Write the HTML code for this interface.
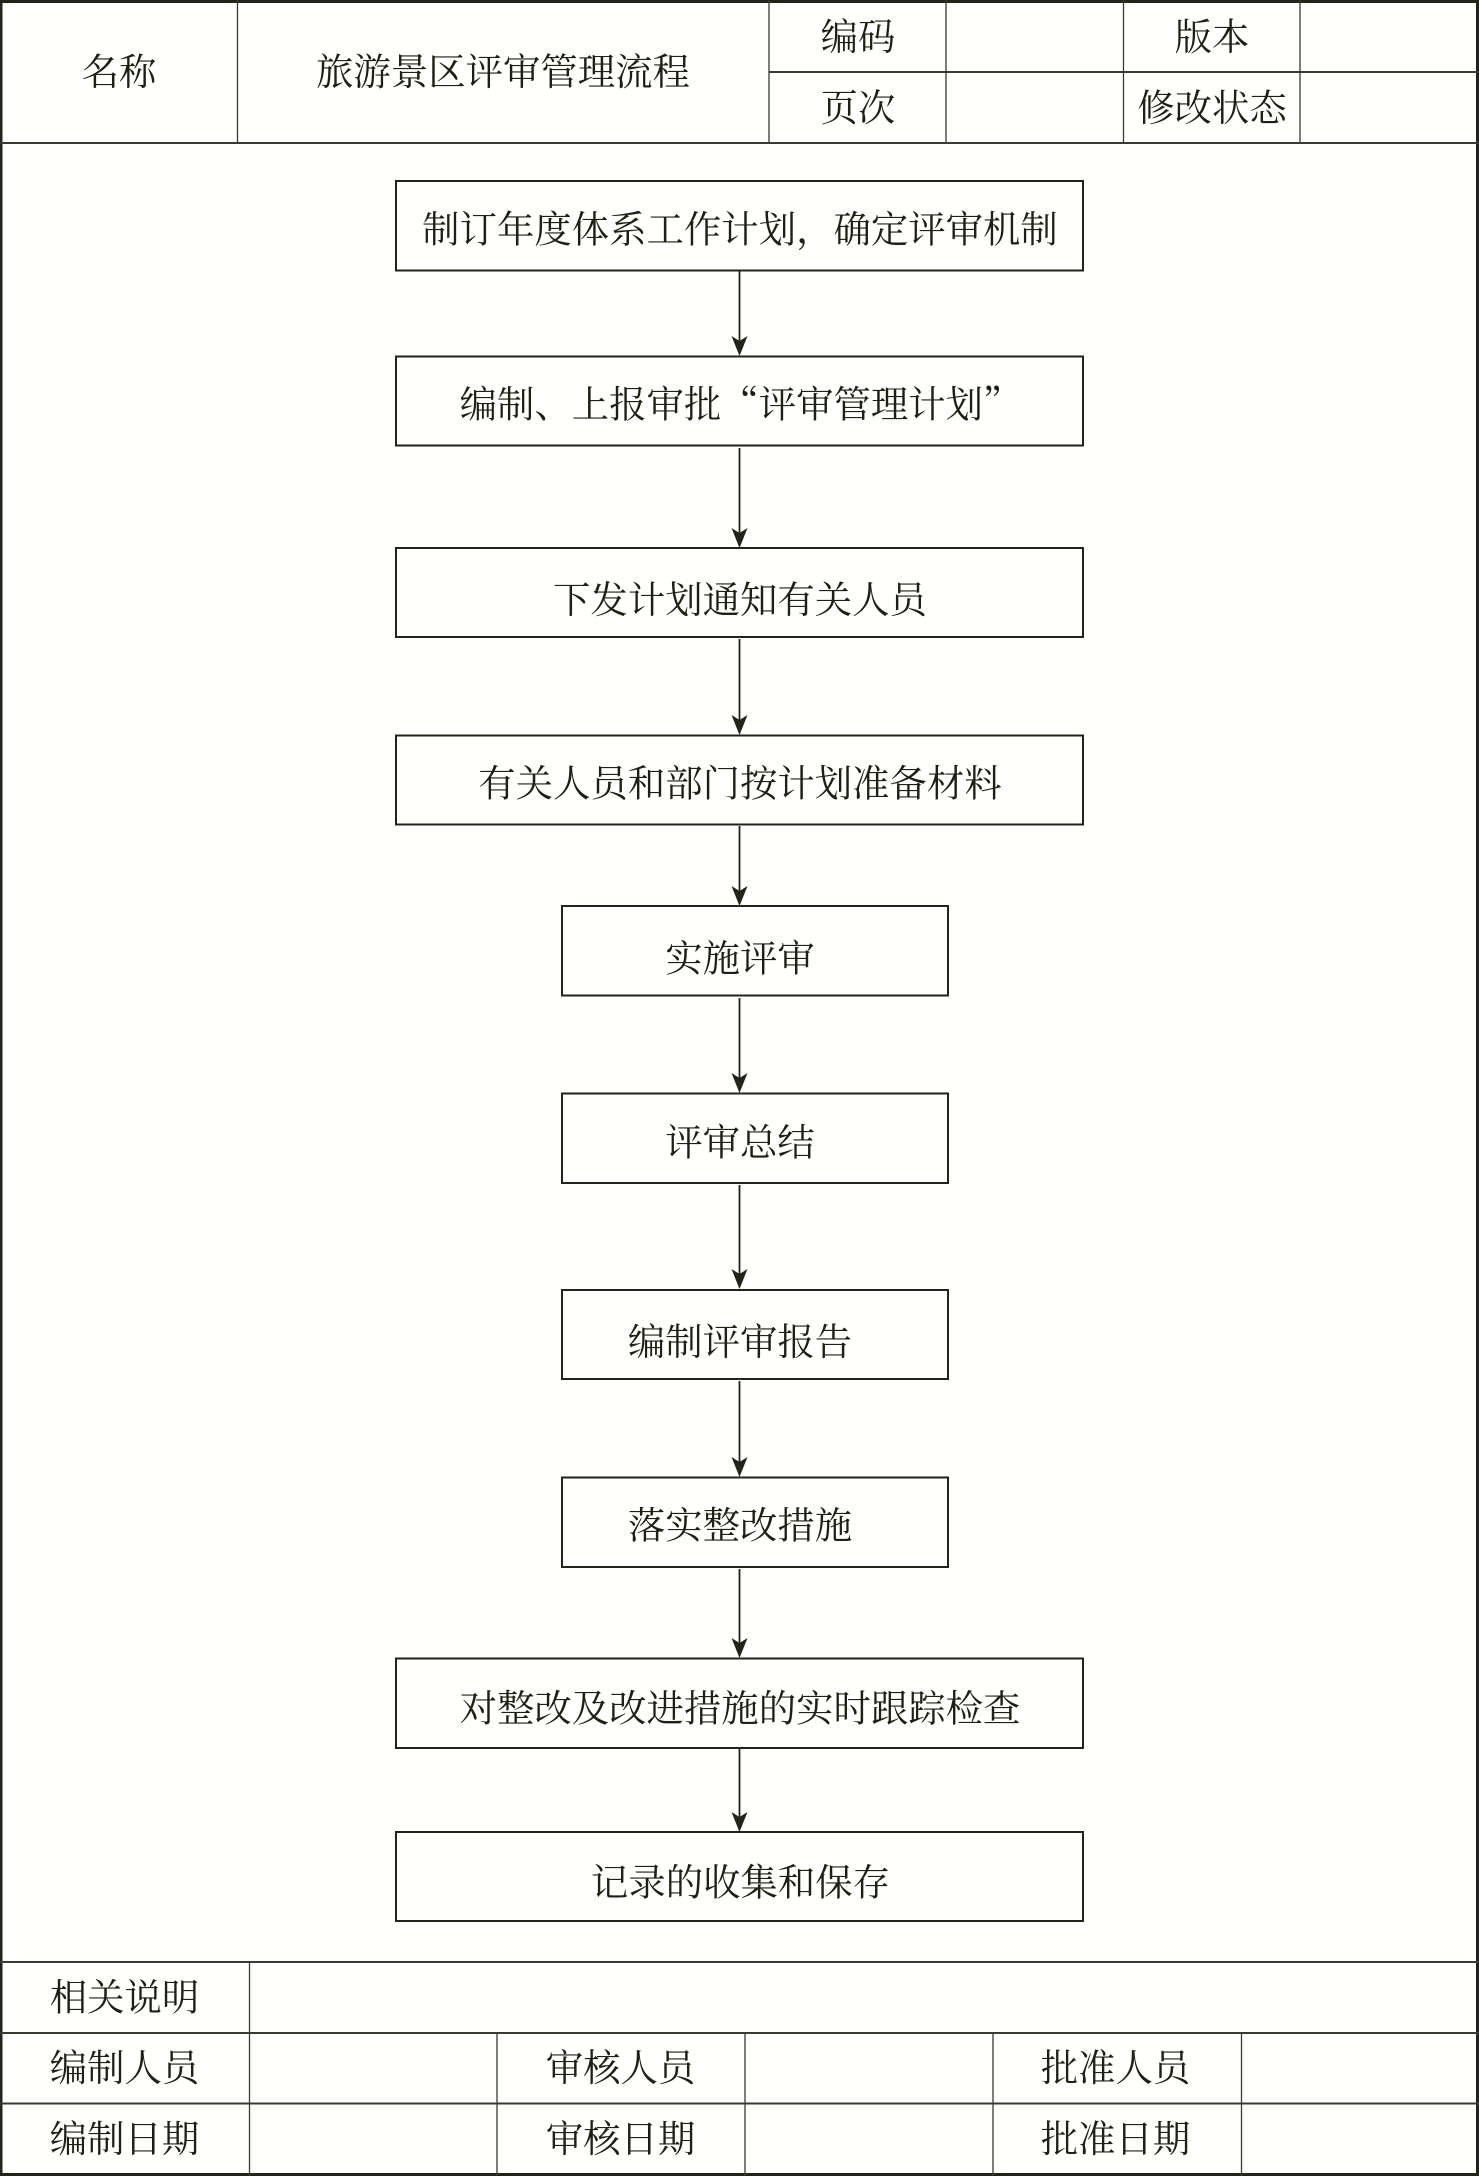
<!DOCTYPE html>
<html lang="zh">
<head>
<meta charset="utf-8">
<title>旅游景区评审管理流程</title>
<style>
html,body{margin:0;padding:0;background:#fffffd;}
svg{display:block;}
text{font-family:"Noto Serif CJK SC","Liberation Serif",serif;font-size:37.4px;fill:#1f1f14;text-anchor:middle;}
</style>
</head>
<body>
<svg width="1479" height="2176" viewBox="0 0 1479 2176" xmlns="http://www.w3.org/2000/svg">
<defs>
<g id="ah"><path d="M-8-20 L0-15 L8-20 L0 0 Z" fill="#23231a"/></g>
</defs>
<rect width="1479" height="2176" fill="#fffffd"/>
<!-- outer border -->
<g fill="#23231a">
<rect x="0" y="0" width="1479" height="3"/>
<rect x="0" y="2173" width="1479" height="3"/>
<rect x="0" y="0" width="2.5" height="2176"/>
<rect x="1476" y="0" width="3" height="2176"/>
</g>
<!-- table lines -->
<g stroke="#3a3a30" fill="none">
<path stroke-width="2" d="M0 143H1479M769 72H1479M0 1962H1479M0 2033H1479M0 2103.5H1479"/>
<path stroke-width="1.3" d="M237.5 0V142M769 0V142M946 0V142M1123.5 0V142M1300 0V142M249.5 1962V2176M497 2033V2176M745 2033V2176M993 2033V2176M1241.5 2033V2176"/>
</g>
<!-- boxes -->
<g fill="none" stroke="#23231a" stroke-width="2">
<rect x="396" y="181" width="687" height="89.5"/>
<rect x="396" y="356.5" width="687" height="89"/>
<rect x="396" y="548" width="687" height="89"/>
<rect x="396" y="735.5" width="687" height="89"/>
<rect x="562" y="906" width="386" height="89.5"/>
<rect x="562" y="1093.5" width="386" height="89.5"/>
<rect x="562" y="1290" width="386" height="89"/>
<rect x="562" y="1477.5" width="386" height="89.5"/>
<rect x="396" y="1658.5" width="687" height="89.5"/>
<rect x="396" y="1832" width="687" height="89"/>
</g>
<!-- connectors -->
<g stroke="#23231a" stroke-width="1.8" fill="none">
<path d="M739.5 271V345M739.5 448V538M739.5 639V725M739.5 826V896M739.5 998V1083M739.5 1185V1279M739.5 1381V1467M739.5 1569V1648M739.5 1749V1822"/>
</g>
<use href="#ah" x="739.5" y="356"/>
<use href="#ah" x="739.5" y="548"/>
<use href="#ah" x="739.5" y="735"/>
<use href="#ah" x="739.5" y="906"/>
<use href="#ah" x="739.5" y="1093"/>
<use href="#ah" x="739.5" y="1289"/>
<use href="#ah" x="739.5" y="1477"/>
<use href="#ah" x="739.5" y="1658"/>
<use href="#ah" x="739.5" y="1832"/>
<!-- header text -->
<text x="119" y="85">名称</text>
<text x="503" y="85">旅游景区评审管理流程</text>
<text x="858" y="50">编码</text>
<text x="1212" y="50">版本</text>
<text x="858" y="121">页次</text>
<text x="1212" y="121">修改状态</text>
<!-- flow text -->
<text x="740" y="242.5">制订年度体系工作计划，确定评审机制</text>
<text x="740" y="417.5">编制、上报审批“评审管理计划”</text>
<text x="740" y="613">下发计划通知有关人员</text>
<text x="740" y="796.5">有关人员和部门按计划准备材料</text>
<text x="740" y="971.5">实施评审</text>
<text x="740" y="1155.5">评审总结</text>
<text x="740" y="1355">编制评审报告</text>
<text x="740" y="1538.5">落实整改措施</text>
<text x="740" y="1721.5">对整改及改进措施的实时跟踪检查</text>
<text x="740.5" y="1895.5">记录的收集和保存</text>
<!-- footer text -->
<text x="124.5" y="2010.5">相关说明</text>
<text x="124.5" y="2081">编制人员</text>
<text x="620.5" y="2081">审核人员</text>
<text x="1115.5" y="2081">批准人员</text>
<text x="124.5" y="2152">编制日期</text>
<text x="620.5" y="2152">审核日期</text>
<text x="1115.5" y="2152">批准日期</text>
</svg>
</body>
</html>
